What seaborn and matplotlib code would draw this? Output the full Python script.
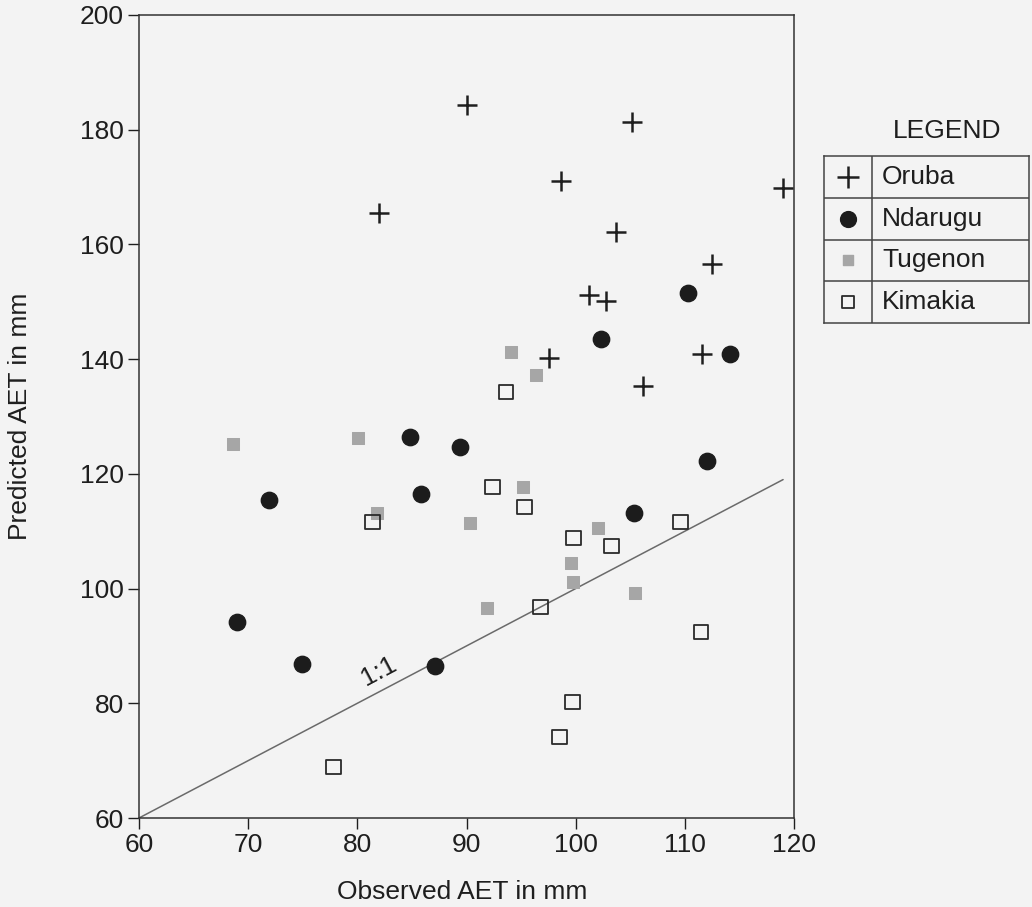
import numpy as np
import pandas as pd
import matplotlib
matplotlib.use("Agg")
import matplotlib.pyplot as plt
import seaborn as sns

# data (observed vs predicted AET, mm)
oruba_obs = [90.0, 82.0, 105.2, 98.7, 119.0, 103.7, 112.5, 101.2, 102.8, 97.6, 111.6, 106.2]
oruba_pred = [184.3, 165.5, 181.3, 171.1, 169.8, 162.2, 156.6, 151.2, 150.1, 140.2, 140.9, 135.3]

ndarugu_obs = [110.3, 102.3, 114.1, 112.0, 105.3, 84.8, 89.4, 85.8, 71.9, 69.0, 74.9, 87.1]
ndarugu_pred = [151.5, 143.5, 140.9, 122.2, 113.2, 126.4, 124.7, 116.5, 115.4, 94.2, 86.8, 86.5]

tugenon_obs = [68.6, 80.1, 81.8, 90.3, 91.9, 94.1, 96.4, 95.2, 102.0, 99.6, 99.8, 105.4]
tugenon_pred = [125.2, 126.2, 113.2, 111.4, 96.6, 141.2, 137.2, 117.7, 110.6, 104.5, 101.1, 99.2]

kimakia_obs = [93.6, 81.4, 92.4, 95.3, 99.8, 103.3, 109.6, 96.8, 111.5, 99.7, 98.5, 77.8]
kimakia_pred = [134.3, 111.6, 117.7, 114.2, 108.8, 107.4, 111.6, 96.8, 92.4, 80.2, 74.1, 68.9]

one_to_one = [60, 119]
sites = ["Oruba", "Ndarugu", "Tugenon", "Kimakia"]
x_ticks = [60, 70, 80, 90, 100, 110, 120]
y_ticks = [60, 80, 100, 120, 140, 160, 180, 200]

df = pd.concat([
    pd.DataFrame({"obs": oruba_obs, "pred": oruba_pred, "site": "Oruba"}),
    pd.DataFrame({"obs": ndarugu_obs, "pred": ndarugu_pred, "site": "Ndarugu"}),
    pd.DataFrame({"obs": tugenon_obs, "pred": tugenon_pred, "site": "Tugenon"}),
    pd.DataFrame({"obs": kimakia_obs, "pred": kimakia_pred, "site": "Kimakia"}),
])

sns.set_style("ticks")
plt.rcParams["font.family"] = ["Liberation Sans", "DejaVu Sans"]

bg = "#f3f3f3"
ink = "#1e1e1e"
fs = 19
styles = {
    "Oruba": dict(marker="+", s=210, color=ink, linewidth=1.8),
    "Ndarugu": dict(marker="o", s=140, color="#1c1c1c", edgecolor="#1c1c1c"),
    "Tugenon": dict(marker="s", s=85, color="#a6a6a6", edgecolor="#a6a6a6"),
    "Kimakia": dict(marker="s", s=110, facecolor="none", edgecolor="#2a2a2a", linewidth=1.3),
}
legend_sizes = {"Oruba": 260, "Ndarugu": 130, "Tugenon": 50, "Kimakia": 75}

fig = plt.figure(figsize=(10.32, 9.07), dpi=100, facecolor=bg)
ax = fig.add_axes([139 / 1032, 1 - 818 / 907, 655 / 1032, 803 / 907])
ax.set_facecolor(bg)

# 1:1 line
ax.plot(one_to_one, one_to_one, color="#6a6a6a", lw=1.1, zorder=1)
ax.text(82.0, 85.6, "1:1", rotation=28, fontsize=fs, ha="center", va="center", color=ink)

for site in sites:
    sub = df[df.site == site]
    sns.scatterplot(data=sub, x="obs", y="pred", ax=ax, legend=False, zorder=3, **styles[site])

ax.set_xlim(60, 120)
ax.set_ylim(60, 200)
ax.set_xticks(x_ticks)
ax.set_yticks(y_ticks)
ax.tick_params(direction="out", length=8, width=1, labelsize=fs, colors=ink, pad=3)
for sp in ax.spines.values():
    sp.set_linewidth(1.1)
    sp.set_color("#333333")
ax.set_xlabel("Observed AET in mm", fontsize=fs, color=ink)
ax.set_ylabel("Predicted AET in mm", fontsize=fs, color=ink)
ax.xaxis.set_label_coords(0.493, -0.077)
ax.yaxis.set_label_coords(-0.163, 0.5)

# table-style legend box on the right
lax = fig.add_axes([824 / 1032, 1 - 323 / 907, 205 / 1032, 167 / 907])
lax.set_xlim(0, 1)
lax.set_ylim(0, 4)
lax.set_facecolor(bg)
lax.set_xticks([])
lax.set_yticks([])
for sp in lax.spines.values():
    sp.set_linewidth(1.1)
    sp.set_color("#444444")
for r in [1, 2, 3]:
    lax.axhline(r, color="#444444", lw=1.1)
lax.axvline(48 / 205, color="#444444", lw=1.1)
for i, site in enumerate(sites):
    yc = 3.5 - i
    st = dict(styles[site])
    st["s"] = legend_sizes[site]
    lax.scatter([24 / 205], [yc], **st)
    lax.text(58 / 205, yc, site, fontsize=fs, va="center", ha="left", color=ink)
fig.text(947 / 1032, 1 - 131 / 907, "LEGEND", fontsize=fs, ha="center", va="center", color=ink)

fig.savefig("out.png", dpi=100, facecolor=bg)
